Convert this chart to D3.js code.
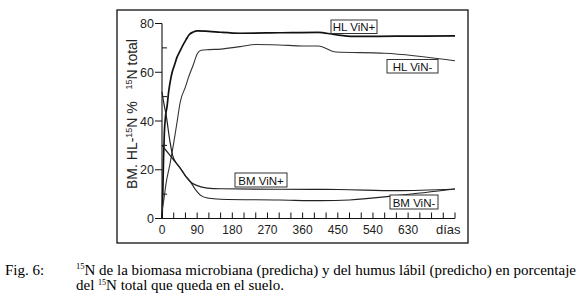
<!DOCTYPE html>
<html>
<head>
<meta charset="utf-8">
<script src="https://cdn.jsdelivr.net/npm/d3@7"></script>
<style>
  html, body { margin: 0; padding: 0; background: #fff; }
  svg { display: block; }
</style>
</head>
<body>
<svg id="chart" width="579" height="294"></svg>
<script>
// ---- data (days, % of total 15N) ----
const hlVinPlusDays  = [0, 2, 4, 6, 9, 13, 17, 22, 26, 32, 38, 47, 55, 62, 70, 80, 90, 120, 150, 200, 300, 400, 440, 490, 600, 750];
const hlVinPlusVals  = [0, 10, 25, 35, 42, 46, 52, 57, 60, 63, 66, 69, 71.5, 73.5, 75.5, 76.5, 77, 76.8, 76.4, 76, 76.2, 76.4, 75.5, 74.7, 74.8, 74.9];
const hlVinMinusDays = [0, 5, 10, 20, 30, 38, 47, 60, 68, 80, 90, 100, 120, 150, 200, 240, 300, 360, 400, 445, 570, 750];
const hlVinMinusVals = [3, 8, 14, 22, 31, 39, 48, 54, 58, 63, 67.5, 69, 69.3, 69.5, 70.5, 71.4, 71.2, 70.8, 70.8, 68.3, 67.8, 64.7];
const bmVinPlusDays  = [0, 10, 20, 30, 47, 60, 73, 90, 116, 150, 300, 450, 600, 750];
const bmVinPlusVals  = [30, 28, 26, 24, 20.6, 17.5, 15, 13.5, 12.5, 12.2, 12, 11.9, 11.4, 12.1];
const bmVinMinusDays = [0, 5, 10, 20, 27, 40, 47, 60, 73, 85, 98, 116, 150, 300, 407, 480, 613, 750];
const bmVinMinusVals = [52, 47, 43, 32, 26, 22, 20.6, 17.5, 15, 12, 9.6, 8.4, 7.9, 7.6, 7.3, 7.6, 9.6, 12.1];

const seriesNames = ["HL ViN+", "HL ViN-", "BM ViN+", "BM ViN-"];
const xTicks = [0, 30, 60, 90, 120, 150, 180, 210, 240, 270, 300, 330, 360, 390, 420, 450, 480, 510, 540, 570, 600, 630, 660, 690, 720, 750];
const xTickLabels = ["0", "90", "180", "270", "360", "450", "540", "630"];
const xUnitLabel = "días";
const yTicks = [0, 10, 20, 30, 40, 50, 60, 70, 80];
const yTickLabels = ["0", "20", "40", "60", "80"];

// ---- layout ----
const svg = d3.select("#chart");
const x = d3.scaleLinear().domain([0, 750]).range([162, 455]);
const y = d3.scaleLinear().domain([0, 80]).range([218.5, 23.5]);
const sans = "'Liberation Sans', Arial, sans-serif";
const serif = "'Liberation Serif', 'Times New Roman', serif";

// outer frame
svg.append("rect").attr("x", 117).attr("y", 10).attr("width", 351).attr("height", 233)
  .attr("fill", "none").attr("stroke", "#111").attr("stroke-width", 1.3);

// x axis
const gx = svg.append("g");
gx.append("line").attr("x1", x(0)).attr("x2", x(750)).attr("y1", y(0)).attr("y2", y(0))
  .attr("stroke", "#111").attr("stroke-width", 1.1);
gx.selectAll("line.tick").data(xTicks).join("line").attr("class", "tick")
  .attr("x1", d => x(d)).attr("x2", d => x(d))
  .attr("y1", y(0)).attr("y2", d => y(0) - 6)
  .attr("stroke", "#111").attr("stroke-width", 1);
gx.selectAll("text.tl").data(xTickLabels).join("text").attr("class", "tl")
  .attr("x", d => x(+d)).attr("y", 234)
  .attr("text-anchor", "middle").attr("font-family", sans).attr("font-size", 12).attr("fill", "#222")
  .text(d => d);
gx.append("text").attr("x", x(720) + 5).attr("y", 234).attr("text-anchor", "middle")
  .attr("font-family", sans).attr("font-size", 13).attr("fill", "#222").text(xUnitLabel);

// y axis
const gy = svg.append("g");
gy.append("line").attr("x1", x(0)).attr("x2", x(0)).attr("y1", y(0)).attr("y2", y(80))
  .attr("stroke", "#111").attr("stroke-width", 1.1);
gy.selectAll("line.tick").data(yTicks).join("line").attr("class", "tick")
  .attr("x1", d => d % 20 === 0 ? x(0) - 7 : x(0))
  .attr("x2", d => d % 20 === 0 ? x(0) : x(0) + 5)
  .attr("y1", d => y(d)).attr("y2", d => y(d))
  .attr("stroke", "#111").attr("stroke-width", 1);
gy.selectAll("text.tl").data(yTickLabels).join("text").attr("class", "tl")
  .attr("x", x(0) - 8).attr("y", d => y(+d) + 4.5)
  .attr("text-anchor", "end").attr("font-family", sans).attr("font-size", 12.5).attr("fill", "#222")
  .text(d => d);

// y axis title
const yt = svg.append("text").attr("transform", "translate(137,114) rotate(-90)")
  .attr("text-anchor", "middle").attr("font-family", sans).attr("font-size", 14).attr("fill", "#222");
yt.append("tspan").text("BM. HL-");
yt.append("tspan").attr("font-size", 9).attr("dy", -5).text("15");
yt.append("tspan").attr("dy", 5).text("N %\u00a0\u00a0\u00a0");
yt.append("tspan").attr("font-size", 9).attr("dy", -5).text("15");
yt.append("tspan").attr("dy", 5).text("N total");

// lines
const line = d3.line().x(d => x(d[0])).y(d => y(d[1])).curve(d3.curveMonotoneX);
const zipS = (a, b) => a.map((d, i) => [d, b[i]]);
const series = [
  { name: seriesNames[0], pts: zipS(hlVinPlusDays, hlVinPlusVals), color: "#111", w: 1.7 },
  { name: seriesNames[1], pts: zipS(hlVinMinusDays, hlVinMinusVals), color: "#333", w: 1.1 },
  { name: seriesNames[2], pts: zipS(bmVinPlusDays, bmVinPlusVals), color: "#222", w: 1.2 },
  { name: seriesNames[3], pts: zipS(bmVinMinusDays, bmVinMinusVals), color: "#222", w: 1.2 }
];
svg.selectAll("path.series").data(series).join("path").attr("class", "series")
  .attr("d", d => line(d.pts)).attr("fill", "none")
  .attr("stroke", d => d.color).attr("stroke-width", d => d.w);

// labels in boxes
const boxes = [
  { t: seriesNames[0], x: 331, y: 20, w: 46, h: 13.5 },
  { t: seriesNames[1], x: 387, y: 59.5, w: 51, h: 13.5 },
  { t: seriesNames[2], x: 235, y: 173, w: 52, h: 14 },
  { t: seriesNames[3], x: 390, y: 195, w: 48, h: 14 }
];
const gb = svg.selectAll("g.box").data(boxes).join("g").attr("class", "box");
gb.append("rect").attr("x", d => d.x).attr("y", d => d.y).attr("width", d => d.w).attr("height", d => d.h)
  .attr("fill", "#fff").attr("stroke", "#333").attr("stroke-width", 1);
gb.append("text").attr("x", d => d.x + d.w / 2).attr("y", d => d.y + d.h - 2.5)
  .attr("text-anchor", "middle").attr("font-family", sans).attr("font-size", 11.5).attr("fill", "#111")
  .text(d => d.t);

// caption
const cap = svg.append("g").attr("font-family", serif).attr("font-size", 15).attr("fill", "#000");
cap.append("text").attr("x", 5).attr("y", 275).text("Fig. 6:");
const l1 = cap.append("text").attr("x", 76).attr("y", 275);
l1.append("tspan").attr("font-size", 8.5).attr("dy", -6).text("15");
l1.append("tspan").attr("dy", 6).text("N de la biomasa microbiana (predicha) y del humus lábil (predicho) en porcentaje");
const l2 = cap.append("text").attr("x", 76).attr("y", 290);
l2.append("tspan").text("del ");
l2.append("tspan").attr("font-size", 8).attr("dy", -5).text("15");
l2.append("tspan").attr("dy", 5).text("N total que queda en el suelo.");
</script>
</body>
</html>
